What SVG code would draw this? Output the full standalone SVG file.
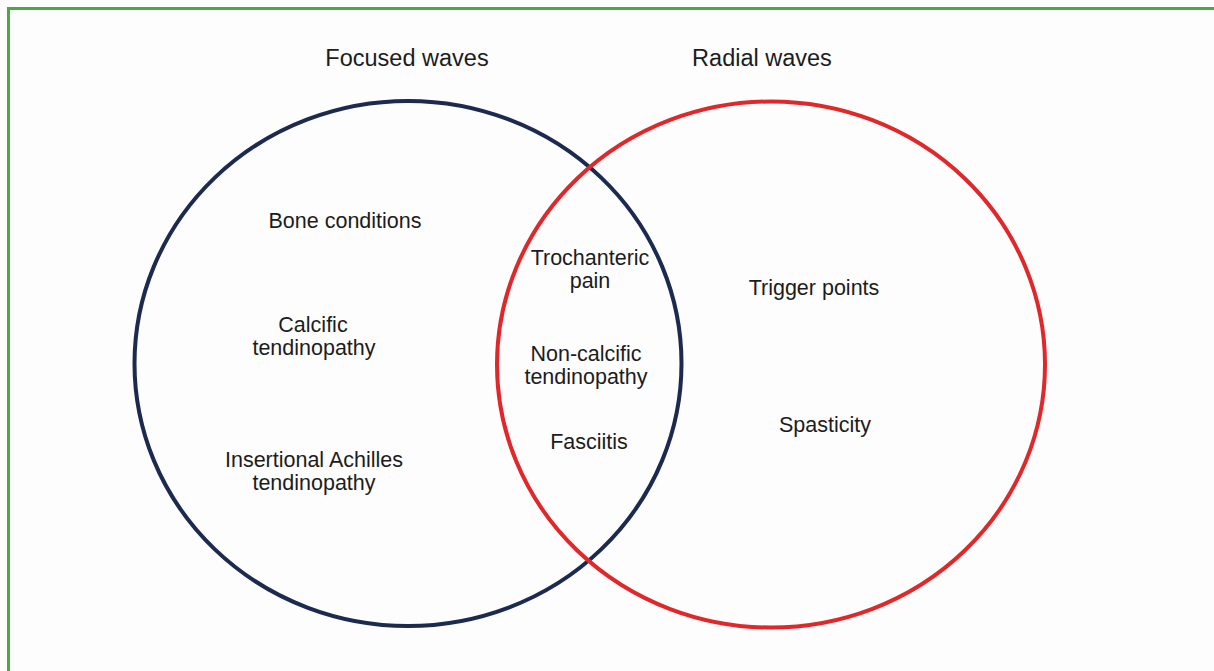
<svg xmlns="http://www.w3.org/2000/svg" width="1214" height="671" viewBox="0 0 1214 671">
<style>
text{font-family:"Liberation Sans",Arial,sans-serif;fill:#1c1c1c;text-anchor:middle}
.t{font-size:23.5px}
.b{font-size:21.5px}
.ring{fill:none;stroke-width:4}
</style>
<rect x="0" y="0" width="1214" height="671" fill="#fdfdfd"/>
<path d="M8.5 671 V8.5 H1214" fill="none" stroke="#4aa845" stroke-width="3"/>
<g id="focused">
<ellipse class="ring" cx="408" cy="363.5" rx="273.5" ry="262.5" stroke="#1b2a4e"/>
<text class="t" x="407" y="66">Focused waves</text>
</g>
<g id="radial">
<ellipse class="ring" cx="771" cy="364.5" rx="274" ry="263" stroke="#e0282a"/>
<text class="t" x="762" y="66">Radial waves</text>
</g>
<g id="bone"><text class="b" x="345" y="228">Bone conditions</text></g>
<g id="calcific"><text class="b" x="313" y="332">Calcific</text><text class="b" x="314" y="355">tendinopathy</text></g>
<g id="achilles"><text class="b" x="314" y="467">Insertional Achilles</text><text class="b" x="314" y="490">tendinopathy</text></g>
<g id="trochanteric"><text class="b" x="590" y="265">Trochanteric</text><text class="b" x="590" y="288">pain</text></g>
<g id="noncalcific"><text class="b" x="586" y="361">Non-calcific</text><text class="b" x="586" y="384">tendinopathy</text></g>
<g id="fasciitis"><text class="b" x="589" y="449">Fasciitis</text></g>
<g id="trigger"><text class="b" x="814" y="295">Trigger points</text></g>
<g id="spasticity"><text class="b" x="825" y="432">Spasticity</text></g>
<g id="connectors"></g>
</svg>
